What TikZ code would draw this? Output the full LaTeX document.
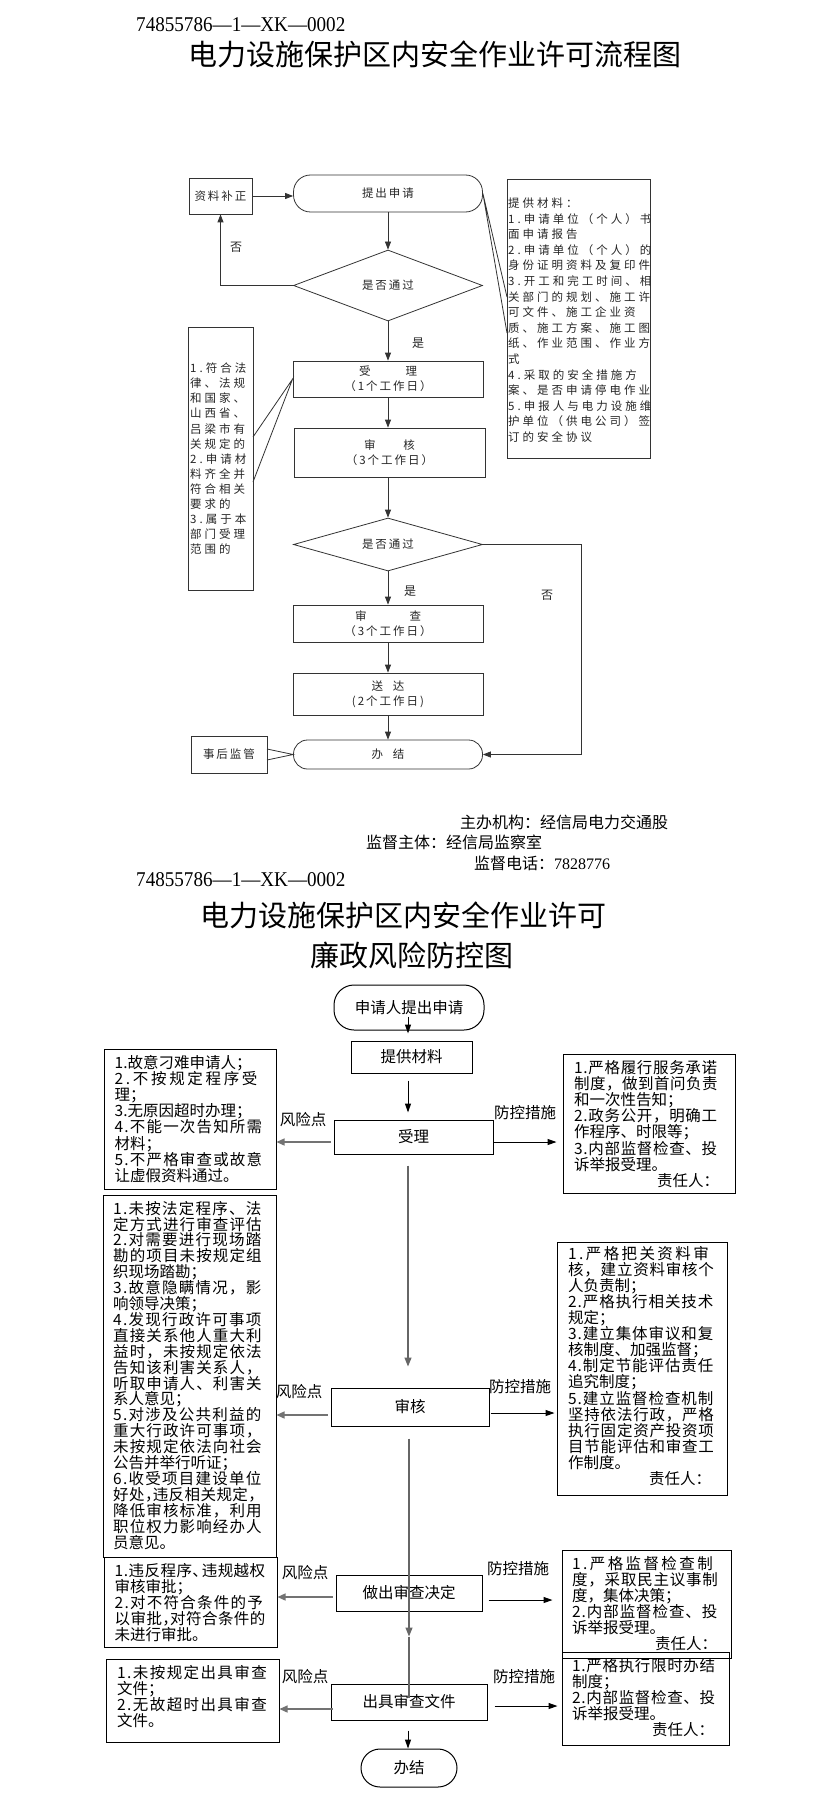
\documentclass[tikz,border=0pt]{standalone}
\usepackage{fontspec}
\usepackage{graphicx}
\setmainfont{Liberation Serif}
\newfontfamily\cjk{Noto Sans CJK SC}
\usetikzlibrary{shapes.geometric,arrows.meta,calc}
\newcount\mycc
\mycc="4E00
\loop\XeTeXcharclass\mycc=1\relax\advance\mycc by 1\relax\ifnum\mycc<"A000\repeat
\XeTeXcharclass"3001=3\relax
\XeTeXcharclass"3002=3\relax
\XeTeXcharclass"FF0C=3\relax
\XeTeXcharclass"FF1B=3\relax
\XeTeXcharclass"FF1A=3\relax
\XeTeXcharclass"FF09=3\relax
\XeTeXcharclass"FF08=2\relax
\def\ichglue{}
\XeTeXinterchartoks 0 0 = {\ichglue}
\XeTeXinterchartoks 0 1 = {\ichglue}
\XeTeXinterchartoks 0 2 = {\ichglue}
\XeTeXinterchartoks 0 3 = {\ichglue}
\XeTeXinterchartoks 1 0 = {\ichglue}
\XeTeXinterchartoks 1 1 = {\ichglue}
\XeTeXinterchartoks 1 2 = {\ichglue}
\XeTeXinterchartoks 1 3 = {\ichglue}
\XeTeXinterchartoks 2 0 = {\ichglue}
\XeTeXinterchartoks 2 1 = {\ichglue}
\XeTeXinterchartoks 2 2 = {\ichglue}
\XeTeXinterchartoks 2 3 = {\ichglue}
\XeTeXinterchartoks 3 0 = {\ichglue}
\XeTeXinterchartoks 3 1 = {\ichglue}
\XeTeXinterchartoks 3 2 = {\ichglue}
\XeTeXinterchartoks 3 3 = {\ichglue}
\tolerance=10000
\hbadness=10000
\hfuzz=3pt
\begin{document}
\begin{tikzpicture}[x=1pt,y=-1pt,
 s1line/.style={draw=black!80,line width=0.8pt},
 s1arr/.style={s1line,-{Triangle[length=8pt,width=6pt]}},
 s1font/.style={font={\cjk\fontsize{11.5}{15}\selectfont\XeTeXinterchartokenstate=1 \def\ichglue{\hskip 2pt}},text=black!85},
 s1box/.style={s1line,rectangle,inner sep=0pt,s1font,align=center},
 s1side/.style 2 args={inner sep=0pt,anchor=north west,text width=#1,text=black!85,
   font={\cjk\fontsize{11.5}{#2}\selectfont\XeTeXinterchartokenstate=1 \def\ichglue{\hskip 3pt}}},
 s1lab/.style={inner sep=0pt,text=black!85,font={\cjk\fontsize{12}{14}\selectfont}},
 s2box/.style={draw=black,line width=1pt,rectangle,inner sep=0pt,font={\cjk\fontsize{15.5}{18}\selectfont}},
 s2side/.style 2 args={inner sep=0pt,anchor=north west,text width=#1,
   font={\cjk\fontsize{15.5}{#2}\selectfont\XeTeXinterchartokenstate=1 \def\ichglue{\hskip 0pt plus 10pt}}},
 s2lab/.style={inner sep=0pt,font={\cjk\fontsize{15.5}{18}\selectfont}},
 arrL/.style={draw=black!55,line width=1.3pt,-{Triangle[length=8pt,width=7pt]}},
 arrR/.style={draw=black,line width=1pt,-{Triangle[length=9pt,width=6pt]}},
 vline/.style={draw=black!60,line width=1.2pt},
 varr/.style={vline,-{Triangle[length=9pt,width=7pt]}},
 codef/.style={inner sep=0pt,anchor=west,font={\fontsize{21}{21}\selectfont}},
 titlef/.style={inner sep=0pt,font={\cjk\fontsize{29}{32}\selectfont}},
 footf/.style={inner sep=0pt,anchor=west,font={\cjk\fontsize{16}{18}\selectfont}}
]
\fill[white] (0,0) rectangle (823,1803);
\useasboundingbox (0,0) rectangle (823,1803);

% ---------------- Section 1 ----------------
\node[codef] (code1) at (136,24.5) {\scalebox{0.91}[1]{74855786—1—XK—0002}};
\node[titlef] (title1) at (435,54) {电力设施保护区内安全作业许可流程图};

\node[s1box,minimum width=63pt,minimum height=36pt] (zlbz) at (220.5,196) {资料补正};
\node[s1box,rounded corners=17pt,minimum width=189pt,minimum height=37pt] (tcsq) at (388,193.5) {提出申请};
\node[s1line,diamond,aspect=2.66,minimum width=189pt,minimum height=71pt,inner sep=0pt,s1font] (d1) at (388,285.5) {是否通过};
\node[s1box,minimum width=190pt,minimum height=36pt] (sl) at (388,379) {受\hspace{35pt}理\\（1个工作日）};
\node[s1box,minimum width=191pt,minimum height=49pt] (sh) at (389.5,452.5) {审\hspace{28pt}核\\（3个工作日）};
\node[s1line,diamond,aspect=3.57,minimum width=189pt,minimum height=53pt,inner sep=0pt,s1font] (d2) at (388,544.5) {是否通过};
\node[s1box,minimum width=190pt,minimum height=37pt] (sc) at (388,623.5) {审\hspace{43pt}查\\（3个工作日）};
\node[s1box,minimum width=190pt,minimum height=42pt] (sd) at (388,694) {送\hspace{10pt}达\\(2个工作日)};
\node[s1box,rounded corners=14pt,minimum width=189pt,minimum height=29pt] (bj) at (388,754.5) {办\hspace{10pt}结};
\node[s1box,minimum width=76pt,minimum height=37pt] (shjg) at (229,754.5) {事后监管};
\node[s1box,minimum width=65pt,minimum height=263pt] (lbox) at (220.5,458.5) {};
\node[s1box,minimum width=143pt,minimum height=279pt] (rbox) at (578.5,318.5) {};

\node[s1side={150pt}{15.6}] (rboxt) at (508,196.9) {\rule{0pt}{10.5pt}提供材料：\par
1.申请单位（个人）书\par
面申请报告\par
2.申请单位（个人）的\par
身份证明资料及复印件\par
3.开工和完工时间、相\par
关部门的规划、施工许\par
可文件、施工企业资\par
质、施工方案、施工图\par
纸、作业范围、作业方\par
式\par
4.采取的安全措施方\par
案、是否申请停电作业\par
5.申报人与电力设施维\par
护单位（供电公司）签\par
订的安全协议\par};

\node[s1side={62pt}{15.1}] (lboxt) at (190,361.9) {\rule{0pt}{10.5pt}1.符合法\par
律、法规\par
和国家、\par
山西省、\par
吕梁市有\par
关规定的\par
2.申请材\par
料齐全并\par
符合相关\par
要求的\par
3.属于本\par
部门受理\par
范围的\par};

% connectors section 1
\draw[s1arr] (zlbz.east) -- (zlbz.east -| tcsq.west);
\draw[s1arr] (tcsq.south) -- (d1.north);
\draw[s1arr] (d1.south) -- (sl.north);
\draw[s1arr] (d1.west) -| (zlbz.south);
\draw[s1arr] (sl.south) -- (sl.south |- sh.north);
\draw[s1arr] (sh.south -| d2.north) -- (d2.north);
\draw[s1arr] (d2.south) -- (sc.north);
\draw[s1arr] (sc.south) -- (sd.north);
\draw[s1arr] (sd.south) -- (bj.north);
\draw[s1arr] (d2.east) -- ++(98,0) |- (bj.east);

\coordinate (rc1) at (507,297);
\coordinate (rc2) at (507,333);
\draw[s1line] (rc1) -- (tcsq.east) -- (rc2);
\coordinate (lc1) at (253,437);
\coordinate (lc2) at (253,482);
\draw[s1line] (lc1) -- (sl.west) -- (lc2);
\coordinate (bc1) at (267,749);
\coordinate (bc2) at (267,760);
\draw[s1line] (bc1) -- (bj.west) -- (bc2);

\node[s1lab] (no1) at (236,247) {否};
\node[s1lab] (yes1) at (418,343) {是};
\node[s1lab] (yes2) at (410,591) {是};
\node[s1lab] (no2) at (547,595) {否};

\node[footf] (f1) at (460,822) {主办机构：经信局电力交通股};
\node[footf] (f2) at (366,842) {监督主体：经信局监察室};
\node[footf] (f3) at (474,863) {监督电话：{\rmfamily 7828776}};

% ---------------- Section 2 ----------------
\node[codef] (code2) at (136,880) {\scalebox{0.91}[1]{74855786—1—XK—0002}};
\node[titlef] (title2a) at (403,915) {电力设施保护区内安全作业许可};
\node[titlef] (title2b) at (412,955) {廉政风险防控图};

\node[s2box,rounded corners=20pt,minimum width=150pt,minimum height=45pt] (st) at (409,1007.5) {申请人提出申请};
\node[s2box,minimum width=121pt,minimum height=32pt] (tgcl) at (411.5,1057) {提供材料};
\node[s2box,minimum width=159pt,minimum height=34pt] (sl2) at (413.5,1137) {受理};
\node[s2box,minimum width=158pt,minimum height=38pt] (sh2) at (410,1407) {审核};
\node[s2box,minimum width=146pt,minimum height=36pt] (zc) at (409,1593) {做出审查决定};
\node[s2box,minimum width=156pt,minimum height=36pt] (cj) at (409,1702) {出具审查文件};
\node[s2box,rounded corners=19pt,minimum width=96pt,minimum height=38pt] (bj2) at (409,1768) {办结};

\node[s2box,minimum width=172pt,minimum height=140pt] (L1) at (190,1119) {};
\node[s2box,minimum width=172pt,minimum height=139pt] (R1) at (649,1123.5) {};
\node[s2box,minimum width=173pt,minimum height=362pt] (L2) at (189.5,1376) {};
\node[s2box,minimum width=170pt,minimum height=253pt] (R2) at (642,1368.5) {};
\node[s2box,minimum width=173pt,minimum height=90pt] (L3) at (190.5,1602) {};
\node[s2box,minimum width=169pt,minimum height=108pt] (R3) at (646.5,1604) {};
\node[s2box,minimum width=173pt,minimum height=83pt] (L4) at (192.5,1700.5) {};
\node[s2box,minimum width=167pt,minimum height=93pt] (R4) at (645.5,1698.5) {};

\node[s2side={151pt}{16.2}] (L1t) at (114.5,1053.4) {\rule{0pt}{14.5pt}1.故意刁难申请人；\par
2.不按规定程序受\linebreak
理；\par
3.无原因超时办理；\par
4.不能一次告知所需\linebreak
材料；\par
5.不严格审查或故意\linebreak
让虚假资料通过。\par};

\node[s2side={145pt}{16.2}] (R1t) at (574,1058.4) {\rule{0pt}{14.5pt}1.严格履行服务承诺\linebreak
制度，做到首问负责\linebreak
和一次性告知；\par
2.政务公开，明确工\linebreak
作程序、时限等；\par
3.内部监督检查、投\linebreak
诉举报受理。\par
\hspace*{\fill}责任人：\par};

\node[s2side={152pt}{15.9}] (L2t) at (113,1199.4) {\rule{0pt}{14.5pt}1.未按法定程序、法\linebreak
定方式进行审查评估\linebreak
2.对需要进行现场踏\linebreak
勘的项目未按规定组\linebreak
织现场踏勘；\par
3.故意隐瞒情况，影\linebreak
响领导决策；\par
4.发现行政许可事项\linebreak
直接关系他人重大利\linebreak
益时，未按规定依法\linebreak
告知该利害关系人，\linebreak
听取申请人、利害关\linebreak
系人意见；\par
5.对涉及公共利益的\linebreak
重大行政许可事项，\linebreak
未按规定依法向社会\linebreak
公告并举行听证；\par
6.收受项目建设单位\linebreak
好处，\kern-.5em 违反相关规定，\linebreak
降低审核标准，利用\linebreak
职位权力影响经办人\linebreak
员意见。\par};

\node[s2side={148pt}{16.1}] (R2t) at (568,1244.4) {\rule{0pt}{14.5pt}1.严格把关资料审\linebreak
核，建立资料审核个\linebreak
人负责制；\par
2.严格执行相关技术\linebreak
规定；\par
3.建立集体审议和复\linebreak
核制度、加强监督；\par
4.制定节能评估责任\linebreak
追究制度；\par
5.建立监督检查机制\linebreak
坚持依法行政，严格\linebreak
执行固定资产投资项\linebreak
目节能评估和审查工\linebreak
作制度。\par
\hspace*{\fill}责任人：\hspace*{5pt}\par};

\node[s2side={152pt}{16.2}] (L3t) at (114.5,1561.4) {\rule{0pt}{14.5pt}1.违反程序、\kern-.4em 违规越权\linebreak
审核审批；\par
2.对不符合条件的予\linebreak
以审批，\kern-.5em 对符合条件的\linebreak
未进行审批。\par};

\node[s2side={148pt}{16}] (R3t) at (572,1554.4) {\rule{0pt}{14.5pt}1.严格监督检查制\linebreak
度，采取民主议事制\linebreak
度，集体决策；\par
2.内部监督检查、投\linebreak
诉举报受理。\par
\hspace*{\fill}责任人：\hspace*{3pt}\par};

\node[s2side={154pt}{16}] (L4t) at (117,1663.4) {\rule{0pt}{14.5pt}1.未按规定出具审查\linebreak
文件；\par
2.无故超时出具审查\linebreak
文件。\par};

\node[s2side={145pt}{16.2}] (R4t) at (572,1656.4) {\rule{0pt}{14.5pt}1.严格执行限时办结\linebreak
制度；\par
2.内部监督检查、投\linebreak
诉举报受理。\par
\hspace*{\fill}责任人：\hspace*{3pt}\par};

% labels section 2
\node[s2lab] (rk1) at (303,1120) {风险点};
\node[s2lab] (fk1) at (525,1113) {防控措施};
\node[s2lab] (rk2) at (299,1392) {风险点};
\node[s2lab] (fk2) at (520,1387) {防控措施};
\node[s2lab] (rk3) at (305,1573) {风险点};
\node[s2lab] (fk3) at (518,1569) {防控措施};
\node[s2lab] (rk4) at (305,1677) {风险点};
\node[s2lab] (fk4) at (524,1677) {防控措施};

% connectors section 2
\draw[arrR] ($(st.center)+(-1,9)$) -- ($(tgcl.north)+(-3.5,-7)$);
\draw[arrR] ($(tgcl.south)+(-3.5,7)$) -- ($(sl2.north)+(-5.5,-7)$);
\draw[varr] ($(sl2.south)+(-5.5,11)$) -- ($(sh2.north)+(-2,-21)$);
\coordinate (vm) at ($(cj.north)+(0,-47)$);
\draw[varr] ($(sh2.south)+(-1,12)$) -- (vm);
\draw[vline] (vm) -- ($(cj.north)+(0,14)$);
\draw[arrR] ($(cj.south)+(-1,10)$) -- ($(bj2.north)+(-1,0)$);

\coordinate (p1) at ($(sl2.west)+(-3,5)$);
\draw[arrL] (p1) -- (p1 -| L1.east);
\coordinate (q1) at ($(sl2.east)+(0,5)$);
\draw[arrR] (q1) -- ($(q1 -| R1.west)+(-6,0)$);
\coordinate (p2) at ($(sh2.west)+(-3,8)$);
\draw[arrL] (p2) -- (p2 -| L2.east);
\coordinate (q2) at ($(sh2.east)+(1,6)$);
\draw[arrR] (q2) -- ($(q2 -| R2.west)+(-2,0)$);
\coordinate (p3) at ($(zc.west)+(-3,4)$);
\draw[arrL] (p3) -- (p3 -| L3.east);
\coordinate (q3) at ($(zc.east)+(6,7)$);
\draw[arrR] (q3) -- ($(q3 -| R3.west)+(-9,0)$);
\coordinate (p4) at ($(cj.west)+(2,7)$);
\draw[arrL] (p4) -- (p4 -| L4.east);
\coordinate (q4) at ($(cj.east)+(7,4)$);
\draw[arrR] (q4) -- ($(q4 -| R4.west)+(-4,0)$);
\end{tikzpicture}
\end{document}
